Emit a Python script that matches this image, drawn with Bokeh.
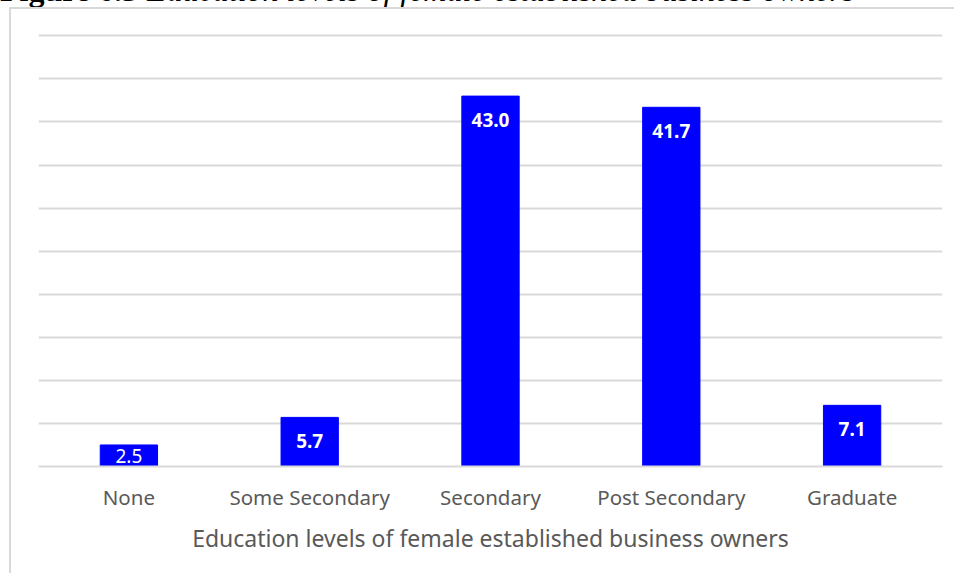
from bokeh.plotting import figure
from bokeh.models import ColumnDataSource, FixedTicker, Div
from bokeh.layouts import column
from bokeh.core.properties import value
from bokeh.embed import file_html
from bokeh.resources import INLINE

categories = ["None", "Some Secondary", "Secondary", "Post Secondary", "Graduate"]
shares = [2.5, 5.7, 43.0, 41.7, 7.1]
label_texts = ["2.5", "5.7", "43.0", "41.7", "7.1"]
label_weights = ["normal", "bold", "bold", "bold", "bold"]
y_ticks = [0, 5, 10, 15, 20, 25, 30, 35, 40, 45, 50]
x_title = "Education levels of female established business owners"
fig_title_num = "Figure 6.5"
fig_title_text = "Education levels of female established business owners"

PAGE_W = 956
TITLE_H = 7          # visible strip of the (cropped) document caption
FIG_X = 9            # chart box starts a little in from the left edge
BORDER = 2
W, H = PAGE_W - FIG_X - BORDER, 566
top, bottom, left, right = 22, 109, 27, 14
y_end = 50.5
frame_h = H - top - bottom
px_per_unit = frame_h / y_end

offsets = [min(24, v * px_per_unit / 2) for v in shares]

src = ColumnDataSource(dict(cat=categories, val=shares, txt=label_texts,
                            wt=label_weights, off=offsets))

p = figure(x_range=categories, y_range=(0, y_end), width=W, height=H,
           output_backend="svg", toolbar_location=None,
           min_border_top=top, min_border_bottom=bottom,
           min_border_left=left, min_border_right=right)
p.margin = (0, 0, 0, FIG_X)
p.styles = {"border-left": "2px solid #d9d9d9", "border-top": "2px solid #d9d9d9"}
p.background_fill_color = "white"
p.border_fill_color = "white"
p.outline_line_color = None

p.vbar(x="cat", top="val", width=0.317, source=src, color="#0000FF")
p.text(x="cat", y="val", text="txt", source=src, y_offset="off",
       text_color="white", text_font=value("Noto Sans"), text_font_size="19px",
       text_font_style="wt", text_align="center", text_baseline="middle")

p.yaxis.visible = False
p.yaxis.ticker = FixedTicker(ticks=y_ticks)
p.ygrid.ticker = FixedTicker(ticks=y_ticks)
p.ygrid.grid_line_color = "#d9d9d9"
p.ygrid.grid_line_width = 2
p.xgrid.grid_line_color = None

xa = p.xaxis[0]
xa.axis_line_color = "#d9d9d9"
xa.axis_line_width = 2
xa.major_tick_line_color = None
xa.minor_tick_line_color = None
xa.major_label_text_font = "Noto Sans"
xa.major_label_text_font_size = "20.5px"
xa.major_label_text_color = "#595959"
xa.major_label_standoff = 10
xa.axis_label = x_title
xa.axis_label_text_font = "Noto Sans"
xa.axis_label_text_font_size = "23px"
xa.axis_label_text_font_style = "normal"
xa.axis_label_text_color = "#595959"
xa.axis_label_standoff = 8

title_html = (
    '<div style="position:relative; top:-30px; height:40px; white-space:nowrap; '
    "font-family:'Liberation Serif'; font-size:32px; line-height:40px; color:#000;\">"
    '<span style="position:absolute; left:0px; font-weight:bold;">' + fig_title_num + '</span>'
    '<span style="position:absolute; left:147px; font-style:italic;">' + fig_title_text + '</span>'
    '</div>'
)
title_div = Div(text=title_html, width=PAGE_W, height=TITLE_H, margin=(0, 0, 0, 0),
                styles={"overflow": "hidden"})

layout = column(title_div, p, spacing=0, margin=(0, 0, 0, 0))

open("out.html", "w").write(file_html(layout, INLINE))
